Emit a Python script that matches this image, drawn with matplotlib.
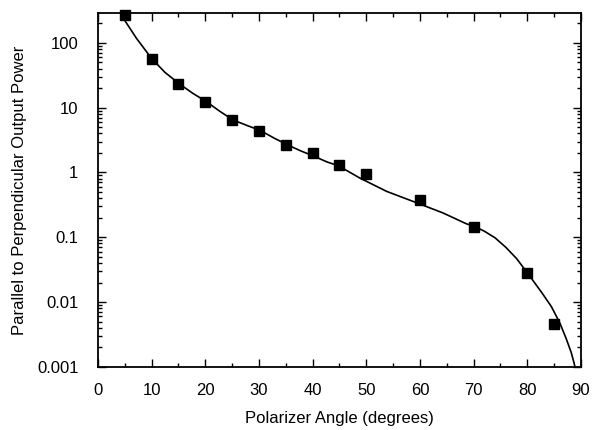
import matplotlib
matplotlib.use("Agg")
import matplotlib.pyplot as plt
from matplotlib.ticker import LogLocator, MultipleLocator, FixedLocator, FixedFormatter, NullFormatter

plt.rcParams['font.family'] = ['Liberation Sans', 'DejaVu Sans']

# measured data points
angle_pts = [5, 10, 15, 20, 25, 30, 35, 40, 45, 50, 60, 70, 80, 85]
ratio_pts = [267, 55.6, 23.5, 12.2, 6.4, 4.4, 2.67, 1.96, 1.3, 0.94, 0.37, 0.145, 0.0283, 0.0046]

# fitted curve
angle_fit = [5.0, 7.2, 10.0, 12.5, 15.2, 17.7, 20.2, 22.7, 25.2, 27.8, 30.3, 32.8,
             35.3, 37.8, 40.4, 42.7, 44.8, 48.8, 53.8, 59.4, 64.3, 68.6, 70.3,
             72.0, 74.0, 76.0, 78.0, 80.2, 82.7, 84.5, 86.1, 87.3, 88.2, 88.7, 89.1]
ratio_fit = [222, 117, 57.5, 35.0, 23.2, 16.6, 12.4, 8.8, 6.45, 5.3, 4.43, 3.4,
             2.67, 2.15, 1.76, 1.45, 1.27, 0.82, 0.51, 0.34, 0.237, 0.162, 0.145,
             0.124, 0.098, 0.070, 0.047, 0.027, 0.0140, 0.0085, 0.0047, 0.00267, 0.00166,
             0.00117, 0.00085]

xticks = [0, 10, 20, 30, 40, 50, 60, 70, 80, 90]
yticks = [0.001, 0.01, 0.1, 1, 10, 100]
ytick_labels = ['0.001', '0.01', '0.1', '1', '10', '100']

fig = plt.figure(figsize=(5.97, 4.30), dpi=100)
ax = fig.add_axes([0.164, 0.147, 0.809, 0.823])

ax.plot(angle_fit, ratio_fit, color='black', linewidth=1.2, zorder=2)
ax.plot(angle_pts, ratio_pts, linestyle='none', marker='s', markersize=7,
        color='black', zorder=3, clip_on=False)

ax.set_yscale('log')
ax.set_xlim(0, 90)
ax.set_ylim(0.001, 290)

ax.xaxis.set_major_locator(FixedLocator(xticks))
ax.xaxis.set_minor_locator(MultipleLocator(5))
ax.yaxis.set_major_locator(FixedLocator(yticks))
ax.yaxis.set_major_formatter(FixedFormatter(ytick_labels))
ax.yaxis.set_minor_locator(LogLocator(base=10, subs=range(2, 10), numticks=20))
ax.yaxis.set_minor_formatter(NullFormatter())

ax.tick_params(which='both', direction='in', top=True, right=True, width=1.0, colors='black')
ax.tick_params(which='major', length=6)
ax.tick_params(which='minor', length=3)
ax.tick_params(axis='x', which='major', pad=12, labelsize=12)
ax.tick_params(axis='y', which='major', pad=14, labelsize=12)

for s in ax.spines.values():
    s.set_linewidth(1.3)

ax.set_xlabel('Polarizer Angle (degrees)', fontsize=12, labelpad=9)
ax.set_ylabel('Parallel to Perpendicular Output Power', fontsize=12, labelpad=7)

fig.savefig('out.png', dpi=100)
